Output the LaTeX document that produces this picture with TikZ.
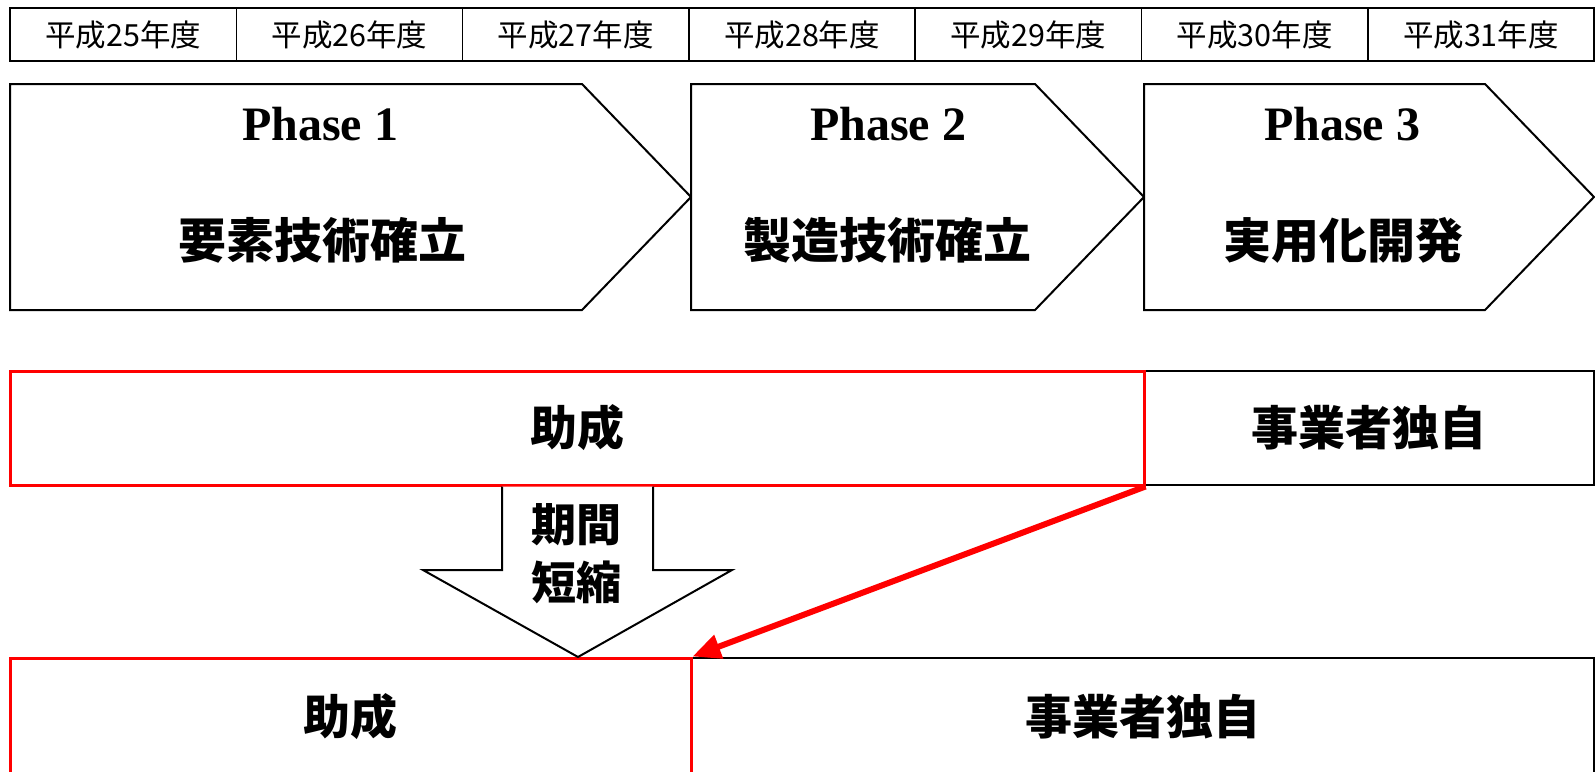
\documentclass[tikz,border=0pt]{standalone}
\usepackage{fontspec}
\setmainfont{Liberation Serif}
\newfontfamily\jp{Noto Sans CJK JP}
\usetikzlibrary{arrows.meta}
\tikzset{
  yearbox/.style={draw, line width=1.6pt, minimum width=226.3pt, minimum height=53pt, inner sep=0pt, font=\jp\fontsize{30.5}{32}\selectfont},
  phaseshape/.style={draw, line width=2pt, fill=white},
  phasetitle/.style={inner sep=0pt, font=\bfseries\fontsize{48}{52}\selectfont},
  phasetext/.style={inner sep=0pt, font=\jp\bfseries\fontsize{48}{52}\selectfont},
  blackbox/.style={draw, line width=2pt, inner sep=0pt, font=\jp\bfseries\fontsize{47}{50}\selectfont},
  redbox/.style={blackbox, draw=red, line width=3pt},
  downarrow/.style={draw, line width=2pt, fill=white, line join=miter},
  arrowtext/.style={inner sep=0pt, font=\jp\bfseries\fontsize{45}{48}\selectfont},
  redarrow/.style={draw=red, line width=6pt, -{Triangle[length=28pt,width=24pt]}}
}
\begin{document}
\begin{tikzpicture}[x=1pt,y=-1pt]
\useasboundingbox (0,0) rectangle (1595,771);
% year row
\foreach \i/\yr in {0/25,1/26,2/27,3/28,4/29,5/30,6/31}{
  \node[yearbox] (y\yr) at ({10+226.3*(\i+0.5)},34.5) {平成\yr 年度};
}
% phases
\draw[phaseshape] (10,84) -- (582,84) -- (691,197) -- (582,310) -- (10,310) -- cycle;
\draw[phaseshape] (691,84) -- (1035,84) -- (1144,197) -- (1035,310) -- (691,310) -- cycle;
\draw[phaseshape] (1144,84) -- (1485,84) -- (1594,197) -- (1485,310) -- (1144,310) -- cycle;
\node[phasetitle] (p1t) at (320,124) {Phase 1};
\node[phasetitle] (p2t) at (888,124) {Phase 2};
\node[phasetitle] (p3t) at (1342,124) {Phase 3};
\node[phasetext] (p1j) at (322,240) {要素技術確立};
\node[phasetext] (p2j) at (887,240) {製造技術確立};
\node[phasetext] (p3j) at (1343,240) {実用化開発};
% middle row
\node[blackbox, minimum width=450pt, minimum height=114pt] (own1) at (1369,428) {事業者独自};
\node[redbox, minimum width=1134pt, minimum height=114pt] (sub1) at (577,428) {助成};
% bottom row
\node[blackbox, minimum width=903pt, minimum height=118pt] (own2) at (1142.5,717) {事業者独自};
\node[redbox, minimum width=681pt, minimum height=118pt] (sub2) at (350.5,717) {助成};
% down arrow
\draw[downarrow] (502,486.5) -- (502,570) -- (423,570) -- (578,657) -- (732,570) -- (653,570) -- (653,486.5);
\node[arrowtext] (a1) at (576.5,525) {期間};
\node[arrowtext] (a2) at (576.5,582) {短縮};
% red arrow
\draw[redarrow] (sub1.south east) -- (sub2.north east);
\end{tikzpicture}
\end{document}
